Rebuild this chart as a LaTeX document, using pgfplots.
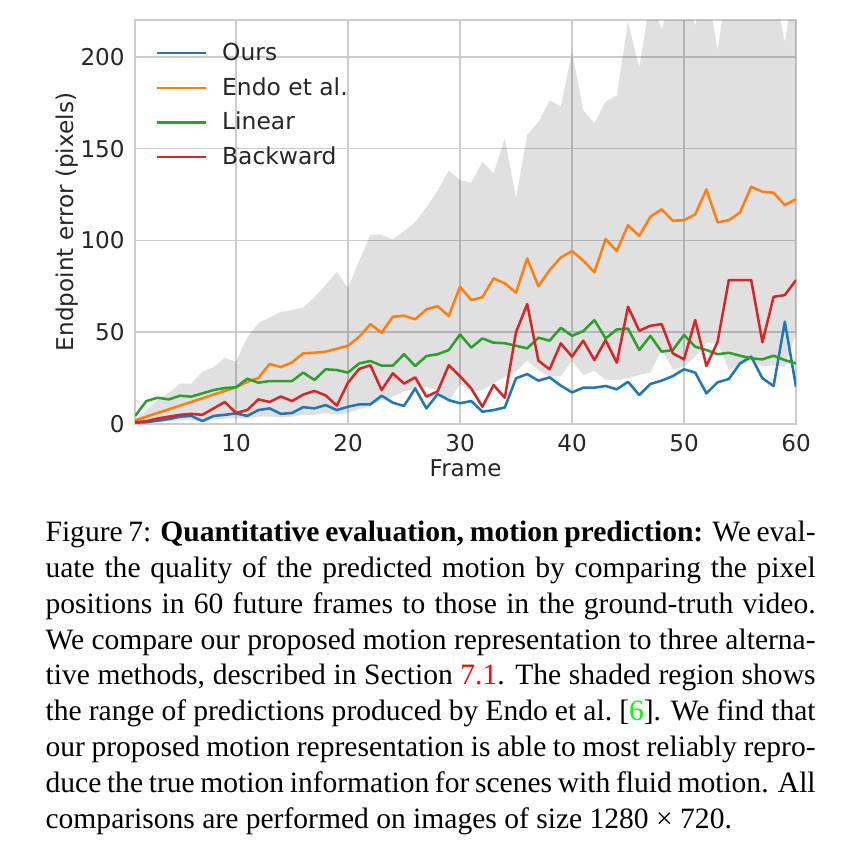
\documentclass[border=0pt]{standalone}
\usepackage{fontspec}
\setmainfont{Liberation Serif}
\newfontfamily\dejavu{DejaVu Sans}
\usepackage{pgfplots}
\pgfplotsset{compat=1.18}
\usepackage{pgfplotstable}
\usepgfplotslibrary{fillbetween}

\definecolor{tabblue}{HTML}{1F77B4}
\definecolor{taborange}{HTML}{FF7F0E}
\definecolor{tabgreen}{HTML}{2CA02C}
\definecolor{tabred}{HTML}{D62728}
\definecolor{gridc}{HTML}{CCCCCC}
\definecolor{labc}{HTML}{262626}

\newcommand\chartfont{\dejavu\fontsize{7.7}{9.2}\selectfont}
\newcommand\legfont{\dejavu\fontsize{7.8}{9.3}\selectfont}
\newcommand\capfont{\fontsize{9.85}{11.93}\selectfont}

% frame, ours, endo, linear, backward, range low, range high
\pgfplotstableread{
f ours endo linear backward lo hi
1 0.7 2 4.4 1 0 2
2 1 4 12.5 1.5 0.5 7.6
3 1.8 6 14.3 3 1 13
4 2.7 8 13.4 4 1.5 17
5 4 10 15.4 5 2 22
6 4.4 12 14.9 5.5 2.5 22
7 1.6 14 16.7 5 1 28.5
8 4.4 16 18.5 8.5 2.5 31
9 5 18 19.6 12 3 36
10 5.8 20 20 6 3 34
11 4.4 23 24.7 7.6 3 47
12 7.6 25 22.5 13.4 4 55
13 8.5 32.7 23.4 12 4 58
14 5.5 31 23.4 15 3.5 61
15 6 33.5 23.4 12.5 4 62
16 9.2 38.5 28 16 5 63.5
17 8.5 38.8 24 18 5 69
18 10.3 39.4 29.8 15.6 6 75.7
19 7.6 41 29.4 10 5 83
20 9.4 42.6 28 22.5 6 74
21 10.7 47.5 33 30 8 89
22 10.7 54.4 34.3 32 10 103
23 15.4 49.7 31.8 18.5 13 103
24 11.6 58.4 31.8 27.6 15 100.5
25 9.8 59 38 22 17.6 105
26 19.4 57 31.6 25.4 19.4 110
27 8.5 62.4 37 14.9 20.3 118
28 16.3 64.2 38 17.8 18.5 127
29 13 58.8 40.3 32 12 138
30 11.3 74.8 48.8 26 22 132.8
31 12.5 67.5 41.6 19.4 17.6 131.4
32 6.7 69 46.6 9.4 18.5 142.8
33 7.6 79.3 44.3 21.2 22 136.5
34 9 76.6 44 14.3 25.8 155.5
35 24.9 71.5 42.6 50 28.5 122.9
36 27.2 90.2 41.2 65.3 34.5 157.4
37 23.6 75 47 34.5 29.4 164.6
38 25.4 83.8 45.4 29.8 25.8 176.4
39 20.9 90.7 52.4 43.9 26 172.8
40 17.2 94.2 48 36.7 34.5 202.7
41 19.8 89 50.6 45.4 26.7 171
42 19.8 82.6 56.6 34.8 28.9 163.7
43 20.7 100.7 46.6 45.7 24 175.5
44 18.9 94.2 51.5 33.4 24 179
45 23 108.3 52 63.9 24.9 219
46 15.8 102.4 40.3 50.8 26.7 194
47 21.8 112.9 48 53.5 28 232
48 23.6 116.9 39.4 54.4 40.3 215
49 26.1 110.7 40.3 38.5 29.8 235
50 29.8 111 48.5 35.2 31.2 240
51 28 114.2 42.1 56.6 36.7 217
52 16.7 127.8 40.3 31.6 44 240
53 22.7 109.8 38 44.8 44 203.6
54 24.5 111 38.8 78.4 29.4 245
55 33 115.2 37.2 78.4 32 240
56 36.7 129.2 35.8 78.4 34.8 250
57 24.9 126.5 35.2 44.5 31.2 245
58 20.7 126 37.2 69.3 32 240
59 55.7 119.2 34.8 70.2 31.2 208
60 20.3 122.5 33 78.4 49.4 245
}\errtable

\begin{document}
\begin{tikzpicture}
\path (0,0) rectangle (285.67pt,-281.67pt);
\begin{axis}[
    at={(45.07pt,-141.33pt)}, anchor=south west,
    scale only axis,
    width=220.27pt, height=134.63pt,
    xmin=1, xmax=60, ymin=0, ymax=220,
    xtick={10,20,...,60}, ytick={0,50,...,200},
    major tick length=0pt,
    grid=major,
    major grid style={gridc, line width=0.55pt},
    axis line style={gridc, line width=0.6pt},
    /pgf/number format/assume math mode=true,
    tick label style={font=\chartfont, text=labc},
    label style={font=\chartfont, text=labc},
    xlabel={Frame},
    ylabel={Endpoint error (pixels)},
    xlabel style={at={(axis description cs:0.5,-0.109)}, anchor=center},
    ylabel style={at={(axis description cs:-0.1032,0.5)}, anchor=center},
    legend style={at={(axis description cs:0.0315,0.944)}, anchor=north west,
        draw=none, fill=none, inner sep=0pt, outer sep=0pt,
        font=\legfont, text=labc,
        nodes={inner sep=0pt, text height=6pt, text depth=0pt},
        row sep=5.53pt, column sep=5pt},
    legend cell align=left,
    legend image code/.code={\draw[#1, line width=0.75pt] (0pt,-0.5pt) -- (16.3pt,-0.5pt);},
    every axis plot/.append style={line width=0.85pt, line join=round},
]
\addplot[tabblue] table[x=f, y=ours] {\errtable};
\addplot[taborange] table[x=f, y=endo] {\errtable};
\addplot[tabgreen] table[x=f, y=linear] {\errtable};
\addplot[tabred] table[x=f, y=backward] {\errtable};
\legend{Ours, Endo et al., Linear, Backward}
\addplot[draw=none, name path=hi, forget plot] table[x=f, y=hi] {\errtable};
\addplot[draw=none, name path=lo, forget plot] table[x=f, y=lo] {\errtable};
\addplot[fill=black, fill opacity=0.12, draw=none, forget plot] fill between[of=hi and lo];
\end{axis}

\begin{scope}[every node/.style={anchor=base west, inner sep=0pt}]
\node at (15pt,-180.57pt) {\capfont\hbox to 256.67pt{Figure 7: \textbf{Quantitative evaluation, motion prediction:} We eval-}};
\node at (15pt,-192.50pt) {\capfont\hbox to 256.67pt{uate the quality of the predicted motion by comparing the pixel}};
\node at (15pt,-204.43pt) {\capfont\hbox to 256.67pt{positions in 60 future frames to those in the ground-truth video.}};
\node at (15pt,-216.37pt) {\capfont\hbox to 256.67pt{We compare our proposed motion representation to three alterna-}};
\node at (15pt,-228.30pt) {\capfont\hbox to 256.67pt{tive methods, described in Section {\color{red}7.1}. The shaded region shows}};
\node at (15pt,-240.23pt) {\capfont\hbox to 256.67pt{the range of predictions produced by Endo et al.\ [{\color{green}6}]. We find that}};
\node at (15pt,-252.17pt) {\capfont\hbox to 256.67pt{our proposed motion representation is able to most reliably repro-}};
\node at (15pt,-264.10pt) {\capfont\hbox to 256.67pt{duce the true motion information for scenes with fluid motion. All}};
\node at (15pt,-276.03pt) {\capfont\hbox{comparisons are performed on images of size 1280 × 720.}};
\end{scope}
\end{tikzpicture}
\end{document}
